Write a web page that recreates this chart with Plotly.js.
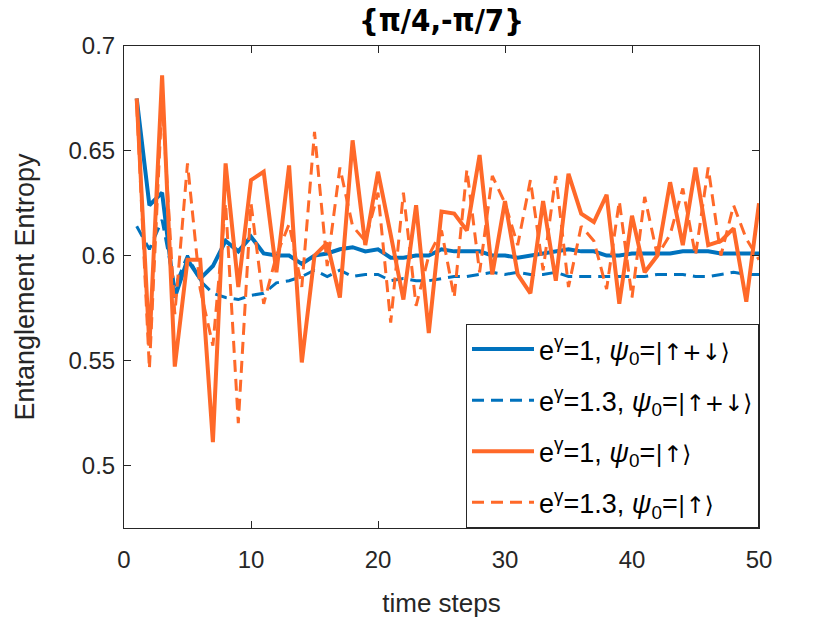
<!DOCTYPE html>
<html>
<head>
<meta charset="utf-8">
<script src="https://cdn.plot.ly/plotly-3.0.1.min.js"></script>
<style>
  html, body { margin: 0; padding: 0; background: #fff; }
  #grafica { width: 840px; height: 626px; }
</style>
</head>
<body>
<div id="grafica"></div>
<script>
const pasos = [
  1, 2, 3, 4, 5, 6, 7, 8, 9, 10,
  11, 12, 13, 14, 15, 16, 17, 18, 19, 20,
  21, 22, 23, 24, 25, 26, 27, 28, 29, 30,
  31, 32, 33, 34, 35, 36, 37, 38, 39, 40,
  41, 42, 43, 44, 45, 46, 47, 48, 49, 50
];

// e^γ=1, ψ0=|↑+↓⟩
const entropiaA = [
  0.675, 0.624, 0.630, 0.580, 0.598, 0.589, 0.595, 0.607, 0.602, 0.609,
  0.601, 0.600, 0.600, 0.596, 0.600, 0.601, 0.603, 0.604, 0.602, 0.603,
  0.599, 0.599, 0.600, 0.600, 0.603, 0.602, 0.602, 0.602, 0.600, 0.600,
  0.599, 0.600, 0.601, 0.602, 0.603, 0.602, 0.602, 0.600, 0.600, 0.601,
  0.601, 0.601, 0.601, 0.602, 0.602, 0.602, 0.601, 0.601, 0.601, 0.601
];

// e^γ=1.3, ψ0=|↑+↓⟩
const entropiaB = [
  0.614, 0.603, 0.617, 0.585, 0.600, 0.588, 0.582, 0.580, 0.579, 0.581,
  0.582, 0.587, 0.588, 0.590, 0.593, 0.590, 0.593, 0.590, 0.591, 0.591,
  0.588, 0.589, 0.588, 0.588, 0.589, 0.590, 0.590, 0.591, 0.592, 0.591,
  0.592, 0.591, 0.591, 0.592, 0.590, 0.590, 0.590, 0.590, 0.590, 0.590,
  0.590, 0.591, 0.591, 0.591, 0.590, 0.590, 0.591, 0.592, 0.591, 0.591
];

// e^γ=1, ψ0=|↑⟩
const entropiaC = [
  0.675, 0.557, 0.686, 0.547, 0.598, 0.598, 0.511, 0.644, 0.585, 0.636,
  0.640, 0.592, 0.643, 0.549, 0.600, 0.606, 0.580, 0.655, 0.605, 0.640,
  0.610, 0.579, 0.624, 0.563, 0.621, 0.620, 0.612, 0.648, 0.591, 0.626,
  0.591, 0.582, 0.626, 0.588, 0.639, 0.620, 0.616, 0.629, 0.577, 0.619,
  0.592, 0.600, 0.635, 0.605, 0.642, 0.605, 0.607, 0.613, 0.578, 0.625
];

// e^γ=1.3, ψ0=|↑⟩
const entropiaD = [
  0.672, 0.546, 0.675, 0.572, 0.644, 0.584, 0.557, 0.625, 0.520, 0.625,
  0.577, 0.600, 0.615, 0.585, 0.659, 0.595, 0.642, 0.614, 0.607, 0.630,
  0.568, 0.630, 0.576, 0.600, 0.612, 0.580, 0.641, 0.592, 0.638, 0.625,
  0.605, 0.636, 0.593, 0.638, 0.585, 0.614, 0.607, 0.584, 0.626, 0.580,
  0.628, 0.600, 0.610, 0.632, 0.600, 0.642, 0.600, 0.624, 0.608, 0.598
];

// arrows and bracket in DejaVu so they are drawn as plain black glyphs
const flechas = s => '<span style="font-family:DejaVu Sans;font-size:23px">' + s + '</span>';

const nombres = [
  'e<sup>γ</sup>=1, <i>ψ</i><sub>0</sub>=' + flechas('|↑+↓⟩'),
  'e<sup>γ</sup>=1.3, <i>ψ</i><sub>0</sub>=' + flechas('|↑+↓⟩'),
  'e<sup>γ</sup>=1, <i>ψ</i><sub>0</sub>=' + flechas('|↑⟩'),
  'e<sup>γ</sup>=1.3, <i>ψ</i><sub>0</sub>=' + flechas('|↑⟩')
];

const ticksY = [0.5, 0.55, 0.6, 0.65, 0.7];
const ticksX = [0, 10, 20, 30, 40, 50];

const AZUL = '#0072BD';
const NARANJA = '#FF6929';
const DISCONTINUA = '12px,7px';
const FUENTE = 'Liberation Sans, Arial, sans-serif';

function traza(y, nombre, grupo, color, ancho, guion) {
  return {
    x: pasos,
    y: y,
    type: 'scatter',
    mode: 'lines',
    name: nombre,
    legendgroup: grupo,
    line: { color: color, width: ancho, dash: guion }
  };
}

// one legend group per trace so tracegroupgap spaces the rows like the reference
const trazas = [
  traza(entropiaA, nombres[0], 'a', AZUL, 4, 'solid'),
  traza(entropiaB, nombres[1], 'b', AZUL, 3, DISCONTINUA),
  traza(entropiaC, nombres[2], 'c', NARANJA, 4, 'solid'),
  traza(entropiaD, nombres[3], 'd', NARANJA, 3, DISCONTINUA)
];

const ejeBase = {
  showline: true,
  linecolor: '#262626',
  linewidth: 1,
  mirror: 'ticks',
  ticks: 'inside',
  ticklen: 7,
  tickcolor: '#262626',
  showgrid: false,
  zeroline: false,
  tickfont: { family: FUENTE, size: 24, color: '#262626' }
};

const layout = {
  width: 840,
  height: 626,
  paper_bgcolor: '#ffffff',
  plot_bgcolor: '#ffffff',
  margin: { l: 124, r: 81, t: 46, b: 98 },
  showlegend: true,
  title: {
    text: '<b>{π/4,-π/7}</b>',
    x: 0.5,
    xref: 'paper',
    xanchor: 'center',
    y: 0.968,
    yanchor: 'middle',
    font: { family: 'Liberation Sans Narrow, DejaVu Sans Condensed, Liberation Sans, sans-serif', size: 31, color: '#000' }
  },
  xaxis: Object.assign({}, ejeBase, {
    range: [0, 50],
    tickvals: ticksX,
    ticklabelstandoff: 10,
    title: {
      text: 'time steps',
      standoff: 22,
      font: { family: FUENTE, size: 26, color: '#262626' }
    }
  }),
  yaxis: Object.assign({}, ejeBase, {
    range: [0.47, 0.7],
    tickvals: ticksY,
    ticklabelstandoff: 3,
    title: {
      text: 'Entanglement Entropy',
      standoff: 26,
      font: { family: FUENTE, size: 27, color: '#262626' }
    }
  }),
  legend: {
    x: 1,
    y: 0,
    xanchor: 'right',
    yanchor: 'bottom',
    bgcolor: '#ffffff',
    bordercolor: '#262626',
    borderwidth: 1,
    itemwidth: 62,
    traceorder: 'grouped',
    tracegroupgap: 13,
    font: { family: FUENTE, size: 27, color: '#000' }
  }
};

Plotly.newPlot('grafica', trazas, layout, { displayModeBar: false, staticPlot: true });
</script>
</body>
</html>
